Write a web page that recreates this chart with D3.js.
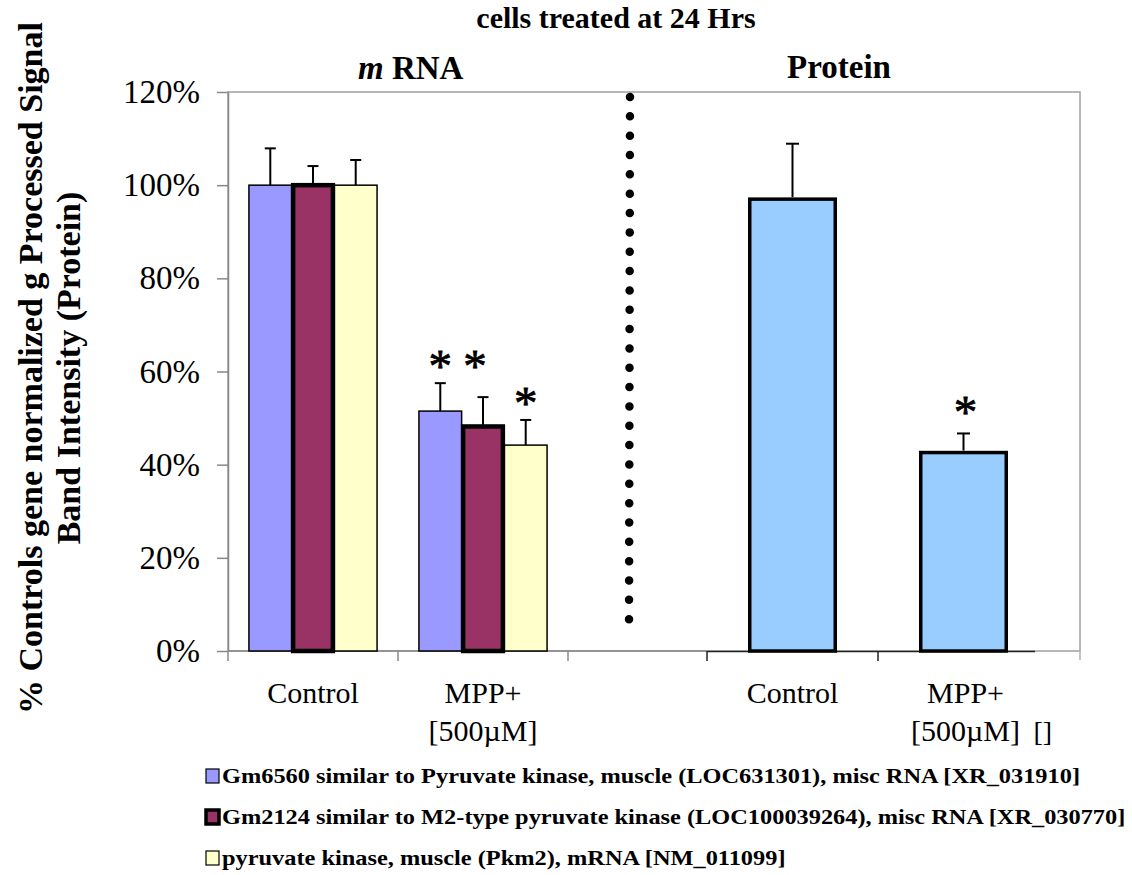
<!DOCTYPE html>
<html>
<head>
<meta charset="utf-8">
<script src="https://cdn.jsdelivr.net/npm/d3@7"></script>
<style>
  body { margin: 0; background: #fff; }
  text { font-family: "Liberation Serif", "Times New Roman", serif; fill: #000; }
</style>
</head>
<body>
<div id="graph"></div>
<script>
"use strict";

/* global d3 */

// mRNA panel
let mrnaGroups = ['Control', 'MPP+'];
let mrnaLabels = [['Control'], ['MPP+', '[500µM]']];
let seriesNames = [
  'Gm6560 similar to Pyruvate kinase, muscle (LOC631301), misc RNA [XR_031910]',
  'Gm2124 similar to M2-type pyruvate kinase (LOC100039264), misc RNA [XR_030770]',
  'pyruvate kinase, muscle (Pkm2), mRNA [NM_011099]'
];
let gm6560Mean = [100.0, 51.5];
let gm6560Err = [7.9, 6.0];
let gm6560Star = [null, 62.6];
let gm2124Mean = [100.0, 48.2];
let gm2124Err = [4.1, 6.3];
let gm2124Star = [null, 62.6];
let pkm2Mean = [100.0, 44.2];
let pkm2Err = [5.4, 5.4];
let pkm2Star = [null, 54.6];

// protein panel
let proteinGroups = ['Control', 'MPP+'];
let proteinLabels = [['Control'], ['MPP+', '[500µM]']];
let proteinMean = [97.0, 42.6];
let proteinErr = [11.9, 4.1];
let proteinStar = [null, 52.8];

let yTicks = [0, 20, 40, 60, 80, 100, 120];

let seriesFill = ['#9999ff', '#993366', '#ffffcc'];
let seriesStroke = [1.5, 4.5, 1.5];

let translateStr = (x, y) => {
  return 'translate(' + x + ', ' + y + ')';
};

let width = 1132;
let height = 875;
let plot = { left: 228, top: 92, right: 1080, bottom: 651 };
let font = '"Liberation Serif", "Times New Roman", serif';

let svg = d3.select('#graph')
  .append('svg')
  .attr('width', width)
  .attr('height', height);

let y = d3.scaleLinear()
  .domain([0, 120])
  .range([plot.bottom, plot.top]);

let xLeft = d3.scaleBand()
  .domain(mrnaGroups)
  .range([228, 568]);

let xSeries = d3.scaleBand()
  .domain(d3.range(seriesNames.length))
  .range([0, xLeft.bandwidth()])
  .paddingInner(0)
  .paddingOuter(0.49);

let xRight = d3.scaleBand()
  .domain(proteinGroups)
  .range([707, 1049]);

// frame
svg.append('rect')
  .attr('x', plot.left)
  .attr('y', plot.top)
  .attr('width', plot.right - plot.left)
  .attr('height', plot.bottom - plot.top)
  .attr('fill', 'none')
  .attr('stroke', '#a0a0a0')
  .attr('stroke-width', 1.5);

svg.append('line')
  .attr('x1', plot.right).attr('x2', plot.right)
  .attr('y1', plot.bottom).attr('y2', plot.bottom + 9)
  .attr('stroke', '#b0b0b0')
  .attr('stroke-width', 1.5);

// y axis
let yAxis = svg.append('g')
  .attr('transform', translateStr(plot.left, 0))
  .call(d3.axisLeft(y)
    .tickValues(yTicks)
    .tickFormat(d => d + '%')
    .tickSize(11)
    .tickSizeOuter(0)
    .tickPadding(17));
yAxis.select('.domain').attr('stroke', '#888').attr('stroke-width', 1.5);
yAxis.selectAll('.tick line').attr('stroke', '#888').attr('stroke-width', 1.5);
yAxis.selectAll('.tick text')
  .attr('font-family', font)
  .attr('font-size', 33)
  .attr('fill', '#000');

// mRNA x axis
svg.append('line')
  .attr('x1', xLeft.range()[0]).attr('x2', xRight.range()[0])
  .attr('y1', plot.bottom).attr('y2', plot.bottom)
  .attr('stroke', '#888')
  .attr('stroke-width', 1.5);

svg.selectAll('.ltick')
  .data(mrnaGroups.concat(['end']))
  .enter().append('line')
  .attr('class', 'ltick')
  .attr('x1', (d, i) => xLeft.range()[0] + i * xLeft.step())
  .attr('x2', (d, i) => xLeft.range()[0] + i * xLeft.step())
  .attr('y1', plot.bottom)
  .attr('y2', plot.bottom + 10)
  .attr('stroke', '#888')
  .attr('stroke-width', 1.5);

// protein x axis
svg.append('line')
  .attr('x1', xRight.range()[0]).attr('x2', xRight.range()[1] - 14)
  .attr('y1', plot.bottom + 0.5).attr('y2', plot.bottom + 0.5)
  .attr('stroke', '#222')
  .attr('stroke-width', 1.5);

svg.selectAll('.rtick')
  .data(proteinGroups)
  .enter().append('line')
  .attr('class', 'rtick')
  .attr('x1', d => xRight(d))
  .attr('x2', d => xRight(d))
  .attr('y1', plot.bottom)
  .attr('y2', plot.bottom + 10)
  .attr('stroke', '#222')
  .attr('stroke-width', 1.5);

// dotted divider
svg.append('line')
  .attr('x1', 630).attr('x2', 629)
  .attr('y1', 97).attr('y2', 638.5)
  .attr('stroke', '#000')
  .attr('stroke-width', 8.5)
  .attr('stroke-linecap', 'round')
  .attr('stroke-dasharray', '0 19.34');

// mRNA bars
let seriesData = [
  { mean: gm6560Mean, err: gm6560Err, star: gm6560Star },
  { mean: gm2124Mean, err: gm2124Err, star: gm2124Star },
  { mean: pkm2Mean, err: pkm2Err, star: pkm2Star }
];

let mrnaBars = [];
seriesData.forEach((s, si) => {
  mrnaGroups.forEach((g, gi) => {
    mrnaBars.push({ series: si, group: g, mean: s.mean[gi], err: s.err[gi], star: s.star[gi] });
  });
});
// thick-bordered series drawn last so its outline stays on top
mrnaBars.sort((a, b) => seriesStroke[a.series] - seriesStroke[b.series]);

let barX = d => xLeft(d.group) + xSeries(d.series);

svg.selectAll('.mbar')
  .data(mrnaBars)
  .enter().append('rect')
  .attr('class', 'mbar')
  .attr('x', d => barX(d) + (seriesStroke[d.series] - 1.5) / 2)
  .attr('y', d => y(d.mean))
  .attr('width', d => xSeries.bandwidth() - (seriesStroke[d.series] - 1.5))
  .attr('height', d => y(0) - y(d.mean))
  .attr('fill', d => seriesFill[d.series])
  .attr('stroke', '#000')
  .attr('stroke-width', d => seriesStroke[d.series]);

let errorBar = (sel, cx, top, base, cap) => {
  sel.append('line')
    .attr('x1', cx).attr('x2', cx)
    .attr('y1', top).attr('y2', base)
    .attr('stroke', '#000').attr('stroke-width', 2);
  sel.append('line')
    .attr('x1', cx - cap / 2).attr('x2', cx + cap / 2)
    .attr('y1', top).attr('y2', top)
    .attr('stroke', '#000').attr('stroke-width', 2);
};

let errG = svg.append('g');
mrnaBars.forEach(d => {
  let cx = barX(d) + xSeries.bandwidth() / 2;
  errorBar(errG, cx, y(d.mean + d.err), y(d.mean), 11);
});

let starSize = 47;
let drawStar = (cx, level) => {
  svg.append('text')
    .attr('x', cx)
    .attr('y', y(level) + starSize * 0.48)
    .attr('text-anchor', 'middle')
    .attr('font-size', starSize)
    .attr('stroke', '#000')
    .attr('stroke-width', 0.8)
    .text('*');
};

mrnaBars.filter(d => d.star !== null).forEach(d => {
  drawStar(barX(d) + xSeries.bandwidth() / 2 - (d.series === 1 ? 8 : 0), d.star);
});

// protein bars
let pBarW = xRight.bandwidth() * 0.5;
svg.selectAll('.pbar')
  .data(proteinGroups)
  .enter().append('rect')
  .attr('class', 'pbar')
  .attr('x', d => xRight(d) + (xRight.bandwidth() - pBarW) / 2)
  .attr('y', (d, i) => y(proteinMean[i]))
  .attr('width', pBarW)
  .attr('height', (d, i) => y(0) - y(proteinMean[i]))
  .attr('fill', '#99ccff')
  .attr('stroke', '#000')
  .attr('stroke-width', 3.5);

proteinGroups.forEach((g, i) => {
  let cx = xRight(g) + xRight.bandwidth() / 2;
  errorBar(errG, cx, y(proteinMean[i] + proteinErr[i]), y(proteinMean[i]) - 2, 13);
  if (proteinStar[i] !== null) drawStar(cx + 2, proteinStar[i]);
});

// category labels
let catLabel = (cx, lines) => {
  let t = svg.append('text')
    .attr('text-anchor', 'middle')
    .attr('font-size', 30);
  lines.forEach((l, i) => {
    t.append('tspan')
      .attr('x', cx)
      .attr('y', 703 + i * 38)
      .text(l);
  });
};
mrnaGroups.forEach((g, i) => catLabel(xLeft(g) + xLeft.bandwidth() / 2, mrnaLabels[i]));
proteinGroups.forEach((g, i) => catLabel(xRight(g) + xRight.bandwidth() / 2 + (i ? 2 : 0), proteinLabels[i]));
svg.append('text')
  .attr('x', xRight('MPP+') + xRight.bandwidth() / 2 + 70)
  .attr('y', 741)
  .attr('font-size', 28)
  .text('[]');

// titles
svg.append('text')
  .attr('x', 616).attr('y', 28)
  .attr('text-anchor', 'middle')
  .attr('font-size', 30)
  .attr('font-weight', 'bold')
  .text('cells treated at 24 Hrs');

let mTitle = svg.append('text')
  .attr('x', 358).attr('y', 79)
  .attr('font-size', 33)
  .attr('font-weight', 'bold');
mTitle.append('tspan').attr('font-style', 'italic').text('m');
mTitle.append('tspan').text(' RNA');

svg.append('text')
  .attr('x', 839).attr('y', 78)
  .attr('text-anchor', 'middle')
  .attr('font-size', 33)
  .attr('font-weight', 'bold')
  .text('Protein');

// y axis title
[['% Controls gene normalized g Processed Signal', 42],
 ['Band Intensity (Protein)', 80]].forEach(d => {
  svg.append('text')
    .attr('transform', translateStr(d[1], 368) + ' rotate(-90)')
    .attr('text-anchor', 'middle')
    .attr('font-size', 34)
    .attr('font-weight', 'bold')
    .text(d[0]);
});

// legend
let legend = svg.append('g')
  .attr('transform', translateStr(206, 776));

let legendRows = legend.selectAll('.row')
  .data(seriesNames)
  .enter().append('g')
  .attr('class', 'row')
  .attr('transform', (d, i) => translateStr(0, i * 41));

legendRows.append('rect')
  .attr('x', 0)
  .attr('y', -7)
  .attr('width', 13)
  .attr('height', 14)
  .attr('fill', (d, i) => seriesFill[i])
  .attr('stroke', '#000')
  .attr('stroke-width', (d, i) => i === 1 ? 3.5 : 1.2);

let legendText = legendRows.append('text')
  .attr('x', 16)
  .attr('y', 7)
  .attr('font-size', 22)
  .attr('font-weight', 'bold')
  .text(d => d);

// squeeze the legend text to the width it has in the figure
let firstLen = legendText.node().getComputedTextLength();
let squeeze = 858 / firstLen;
legendText.each(function () {
  let len = this.getComputedTextLength();
  d3.select(this)
    .attr('textLength', len * squeeze)
    .attr('lengthAdjust', 'spacingAndGlyphs');
});
</script>
</body>
</html>
